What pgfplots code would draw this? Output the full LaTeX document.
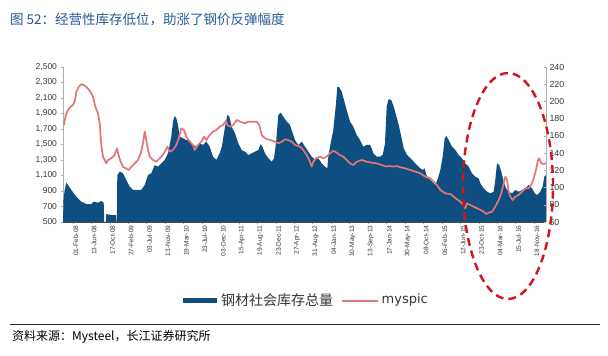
\documentclass[border=0pt]{standalone}
\usepackage{pgfplots}
\pgfplotsset{compat=1.18}
\usepackage{fontspec}
\setmainfont{Liberation Sans}
\newfontfamily\cjk{Noto Sans CJK SC}
\newfontfamily\dejavu{DejaVu Sans}
\definecolor{areablue}{RGB}{14,78,128}
\definecolor{linered}{RGB}{226,118,118}
\definecolor{titleblue}{RGB}{38,92,150}
\definecolor{axgray}{RGB}{175,175,175}
\definecolor{ellred}{RGB}{210,20,30}
\definecolor{txtgray}{RGB}{55,55,55}
\begin{document}
\begin{tikzpicture}[x=1pt,y=1pt]
\useasboundingbox[fill=white] (0,0) rectangle (608,356);
\begin{axis}[
  at={(63pt,134pt)}, anchor=south west,
  scale only axis, width=483pt, height=155pt,
  xmin=63, xmax=546, ymin=500, ymax=2500,
  axis y line*=left, axis x line*=bottom,
  axis line style={axgray, line width=0.6pt},
  x axis line style={black!70, line width=0.8pt},
  ytick={500,700,...,2500},
  xtick={72.70,91.15,109.60,128.05,146.50,164.95,183.40,201.85,220.30,238.75,257.20,275.65,294.10,312.55,331.00,349.45,367.90,386.35,404.80,423.25,441.70,460.15,478.60,497.05,515.50,533.95},
  xticklabels={01-Feb-08,13-Jun-08,17-Oct-08,27-Feb-09,03-Jul-09,13-Nov-09,19-Mar-10,23-Jul-10,03-Dec-10,15-Apr-11,19-Aug-11,23-Dec-11,27-Apr-12,31-Aug-12,04-Jan-13,10-May-13,13-Sep-13,17-Jan-14,30-May-14,08-Oct-14,06-Feb-15,12-Jun-15,23-Oct-15,04-Mar-16,15-Jul-16,18-Nov-16},
  xticklabel style={rotate=90, anchor=east, font=\fontsize{6.5}{7.5}\selectfont, text=txtgray, inner sep=1pt, yshift=-3pt},
  yticklabel style={font=\fontsize{8.5}{10}\selectfont, text=txtgray, /pgf/number format/1000 sep={,}},
  /pgf/number format/assume math mode=true,
  tick align=outside, major tick length=2.5pt,
  tick style={axgray},
]
\addplot[fill=areablue, draw=none] coordinates {
(63,500)(63.5,780)(64.5,900)(66.3,1007)(68.5,970)(71.3,913)(76.3,827)(81.3,762)(86.3,732)(91.3,732)(93.7,762)(98,749)(101.3,771)(103.7,749)(104.2,500)(105.8,500)(106.3,603)(111,590)(116,590)(116.4,500)(116.9,500)(117.3,1106)(119.7,1149)(123,1128)(126.3,1042)(129.7,956)(133,913)(136.3,913)(141.3,913)(144.7,977)(148,1106)(151.3,1128)(154.7,1235)(158,1214)(161.3,1257)(164.7,1300)(168,1386)(171.3,1601)(173,1795)(174.7,1868)(176.3,1838)(178,1752)(179.7,1601)(183,1580)(186.3,1558)(189.7,1558)(193,1494)(196.3,1472)(199.7,1515)(203,1494)(206.3,1537)(209.7,1472)(213,1343)(216.3,1300)(219.7,1386)(222,1480)(225,1730)(227.3,1881)(229.3,1859)(231.7,1730)(235,1644)(238.3,1515)(241.7,1429)(245,1408)(248.3,1365)(251.7,1386)(255,1408)(258.3,1429)(260.7,1506)(262.7,1463)(265,1386)(268.3,1322)(271.7,1278)(274,1322)(276,1515)(278.3,1881)(280.7,1911)(283.3,1859)(286.7,1795)(290,1752)(292.7,1644)(295,1558)(298.3,1494)(301.7,1537)(305,1472)(308.3,1408)(311.7,1343)(315,1300)(318.3,1322)(321.7,1257)(325,1214)(327.3,1192)(328.3,1343)(330,1472)(333.3,1687)(336,2031)(337.3,2246)(339.3,2238)(341.7,2182)(344,2074)(346.7,1945)(350,1795)(353.3,1730)(356.7,1623)(360,1558)(363.3,1472)(366.7,1494)(370,1494)(371.7,1451)(373.3,1386)(376.7,1343)(380,1343)(382.7,1365)(385,1515)(386.7,1988)(388.3,2074)(389.3,2083)(391.3,2074)(393.7,1988)(396,1881)(398.7,1752)(401.3,1601)(403.7,1451)(407,1365)(410.3,1322)(413.7,1278)(417,1235)(420.3,1192)(422.7,1171)(424.7,1192)(426.3,1106)(428.7,1063)(432,1020)(435.3,977)(438,1063)(440.3,1171)(442.7,1343)(444.7,1580)(446.3,1610)(448.7,1558)(452,1472)(455.3,1429)(458.7,1365)(462,1322)(465.3,1257)(468.7,1214)(472,1128)(475.3,1085)(478.7,1063)(480.3,999)(483.7,934)(487,891)(490.3,870)(493.7,891)(495.3,1042)(497,1257)(499.3,1235)(501.3,1149)(503.7,1020)(506,934)(508.7,891)(512,870)(515.3,913)(518.7,891)(522,913)(525.3,934)(528.7,977)(530.3,956)(532,934)(534.7,870)(537,848)(540.3,891)(542.7,956)(544.3,1085)(546,1106)(546,500)
};
\end{axis}
\begin{axis}[
  at={(63pt,134pt)}, anchor=south west,
  scale only axis, width=483pt, height=155pt,
  xmin=63, xmax=546, ymin=60, ymax=240,
  axis y line*=right, axis x line=none,
  axis line style={axgray, line width=0.6pt},
  ytick={60,80,...,240},
  yticklabel style={font=\fontsize{8.8}{10}\selectfont, text=txtgray},
  /pgf/number format/assume math mode=true,
  tick align=inside, major tick length=2.5pt,
  tick style={axgray},
]
\addplot[linered, line width=1.7pt, line join=round] coordinates {
(64.0,172.6)(64.7,178)(66.3,186)(68,190)(70.7,194)(73,196)(74.7,200)(76.3,211)(78.7,217)(81.3,220)(84,219)(86.3,217)(89.7,212.5)(93,205.5)(95.3,194)(98,186)(99.7,174.6)(101.3,149.4)(103,135.9)(104.7,132)(106.3,128)(108,132)(111.3,134)(114.7,137.8)(117,145.5)(119,135.9)(120.7,130)(123,124)(126.3,122)(128.7,120.4)(131.3,124)(134.7,128)(138,132)(140.7,139.7)(143,151.4)(144.7,165)(146.3,155)(148,143.6)(149.7,135.9)(153,132)(156.3,130)(159.7,134)(164,139.7)(167.3,147.5)(169.7,141.7)(173,143.6)(176.3,149.4)(178.7,157)(181.3,168.8)(184,166.8)(186.3,159)(189.7,153.3)(193,149.4)(194.7,143.6)(198,149.4)(201.3,153.3)(204,159)(206.3,155.2)(209.7,161)(213,165)(216.3,166.8)(219.7,170.7)(223,172.6)(226,177.5)(227.3,172.6)(230,170.7)(233.3,172.6)(236.7,178.5)(240,176.5)(245,174.6)(248.3,176.5)(251.7,176.5)(256.7,176.5)(259.3,172.6)(261.7,161)(265,157.2)(270,155.2)(275,153.3)(278.3,151.4)(281.7,153.3)(285,156)(288.3,155.2)(291.7,153.3)(295,149.4)(300,147.5)(303.3,143.6)(306.7,137.8)(309.3,132)(311.7,124.3)(313.3,130)(316,134)(320,135.9)(323.3,134)(326.7,135.9)(330,139.7)(333.3,142.8)(336.7,140.5)(340,137.8)(343.3,135.9)(346.7,132)(350,128.1)(353.3,126.2)(356.7,130)(361.7,132)(366.7,130)(371.7,128.9)(376.7,128.1)(381.7,126.2)(386.7,124.3)(388.7,125)(393.7,124.3)(397,125)(400.3,123.5)(405.3,122.3)(410.3,120.4)(415.3,118.5)(420.3,116.5)(425.3,112.6)(430.3,110.7)(433.7,106.8)(437,103)(440.3,97.2)(445.3,93.3)(450.3,92.5)(453.7,89.4)(457,86.3)(460.3,83.6)(463.7,79.7)(465.3,75.9)(467,81.7)(470.3,79.7)(473.7,77.8)(477,75.9)(480.3,74)(483.7,72)(486,69.3)(488.7,70.8)(492,72)(495.3,77.8)(498.7,85.5)(501.3,93.3)(503.7,104.9)(505.3,112.6)(507,108.8)(508.7,95.2)(510.3,89.4)(512.7,85.5)(515.3,89.4)(518.7,91.4)(522,95.2)(525.3,99.1)(528.7,99.1)(532,104.9)(533.7,110.7)(536,120.4)(538,132)(539.3,134)(541.3,128.1)(543.7,127.4)(546,128.1)
};
\end{axis}
% annotation ellipse
\draw[ellred, line width=2.4pt, dash pattern=on 8pt off 5pt] (508,170) ellipse (45pt and 113pt);
% title
\node[anchor=west, inner sep=0pt, text=titleblue] at (10,336) {\cjk\fontsize{13.5}{16}\selectfont 图 52：经营性库存低位，助涨了钢价反弹幅度};
% legend
\fill[areablue] (183.3,52.7) rectangle (216.7,58.3);
\node[anchor=west, inner sep=0pt, text=txtgray] at (221,55.5) {\cjk\fontsize{14}{16}\selectfont 钢材社会库存总量};
\draw[linered, line width=1.7pt] (341.7,55.3) -- (378.3,55.3);
\node[anchor=west, inner sep=0pt, text=txtgray] at (381.5,56) {\dejavu\fontsize{13}{15}\selectfont myspic};
% source
\draw[black!85, line width=0.8pt] (10,32) -- (600,32);
\node[anchor=west, inner sep=0pt, text=black] at (12,19) {\cjk\fontsize{12}{14}\selectfont 资料来源：Mysteel，长江证券研究所};
\end{tikzpicture}
\end{document}
